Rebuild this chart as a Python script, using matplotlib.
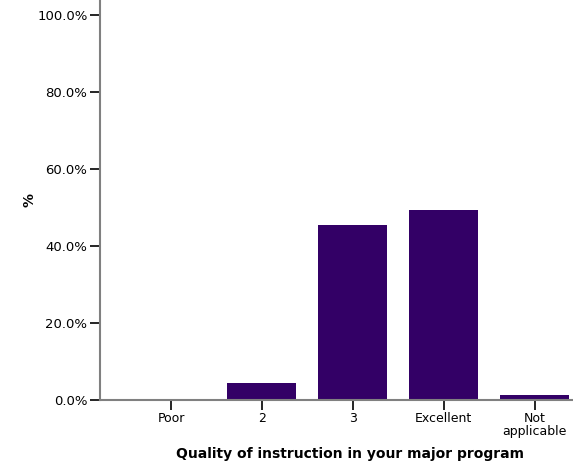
import matplotlib.pyplot as plt
import numpy as np

# answer categories and share of respondents (%)
categories = ['Poor', '2', '3', 'Excellent', 'Not\napplicable']
percent = [0.0, 4.4, 45.5, 49.4, 1.3]
yticks = [0, 20, 40, 60, 80, 100]

fig = plt.figure(figsize=(5.73, 4.62), dpi=100)
ax = fig.add_axes([100 / 573, 62 / 462, 473 / 573, 400 / 462])

x = np.arange(len(categories))
ax.bar(x, percent, width=0.76, color='#330066', zorder=2)

ax.set_xlim(-0.78, 4.42)
ax.set_ylim(0, 103.9)
ax.set_xticks(x)
ax.set_xticklabels(categories, fontsize=9, linespacing=0.9)
ax.set_yticks(yticks)
ax.set_yticklabels(['%.1f%%' % v for v in yticks], fontsize=9.5)
ax.tick_params(axis='both', length=7, width=1.2, color='black', pad=2)

for side in ['top', 'right']:
    ax.spines[side].set_visible(False)
for side in ['left', 'bottom']:
    ax.spines[side].set_color('#808080')
    ax.spines[side].set_linewidth(1.5)

ax.set_xlabel('Quality of instruction in your major program', fontsize=10,
              fontweight='bold')
ax.xaxis.set_label_coords(0.529, -0.118)
ax.set_ylabel('%', fontsize=10, fontweight='bold')
ax.yaxis.set_label_coords(-0.135, 0.5)

fig.savefig('out.png', dpi=100)
